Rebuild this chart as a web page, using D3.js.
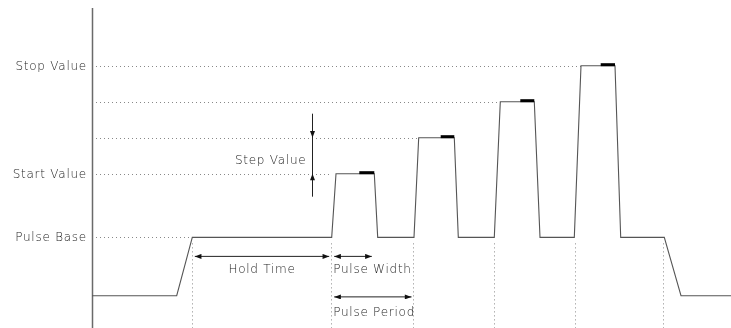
<!DOCTYPE html>
<html>
<head>
<meta charset="utf-8">
<script src="https://cdn.jsdelivr.net/npm/d3@7"></script>
<style>
  html, body { margin: 0; padding: 0; background: #fff; }
  svg { display: block; }
  text { font-family: "DejaVu Sans", sans-serif; font-size: 12px; font-weight: 200; fill: #1e1e1e; letter-spacing: 0.75px; }
  .labels { filter: grayscale(1); }
</style>
</head>
<body>
<svg id="chart" width="731" height="328"></svg>
<script>
// ---------- data (time units, level units) ----------
const levelNames  = ["Pulse Base", "Start Value", "Step 2", "Step 3", "Stop Value"];
const levelValues = [1.62, 3.39, 4.39, 5.39, 6.39];
const lowLevel = 0;
const labelledLevels = ["Stop Value", "Start Value", "Pulse Base"];

// waveform vertices
const waveTimes  = [0, 84.7, 100.3, 239.7, 244, 282.3, 285.7, 322, 326.7, 362.3, 366.3,
                    402.3, 408.3, 442.3, 448, 482.3, 489, 523, 528.7, 572.3, 589, 639];
const waveLevels = [0, 0, 1.62, 1.62, 3.39, 3.39, 1.62, 1.62, 4.39, 4.39, 1.62,
                    1.62, 5.39, 5.39, 1.62, 1.62, 6.39, 6.39, 1.62, 1.62, 0, 0];

// measurement marks at the end of each pulse top
const markStart = [267.3, 348.7, 428.3, 508.7];
const markEnd   = [282.3, 362.3, 442.3, 523];
const markLevel = [3.39, 4.39, 5.39, 6.39];

// where each level's guide line stops (time at which the level is reached)
const guideEnd = [100.3, 239.7, 326.7, 408.3, 489];

// vertical guide times
const vGuides = [100.3, 238.5, 320.7, 402.3, 483, 570.7];

// annotation intervals
const holdTime    = [100.3, 239.7];
const pulseWidth  = [239.7, 282.3];
const pulsePeriod = [239.7, 322];
const stepTime    = 219.7;
const stepLevels  = [3.39, 4.39];

// ---------- scales ----------
const svg = d3.select("#chart");
const x = d3.scaleLinear().domain([0, 639]).range([92, 731]);
const y = d3.scaleLinear().domain([0, 6.39]).range([295.7, 65.7]);

// arrow marker
const defs = svg.append("defs");
defs.append("marker")
  .attr("id", "arrow")
  .attr("viewBox", "0 0 8 6")
  .attr("refX", 8).attr("refY", 3)
  .attr("markerWidth", 8).attr("markerHeight", 5)
  .attr("markerUnits", "userSpaceOnUse")
  .attr("orient", "auto-start-reverse")
  .append("path").attr("d", "M0,0 L8,3 L0,6 Z").attr("fill", "#111");

// vertical axis
svg.append("line")
  .attr("x1", x(0) + 0.5).attr("x2", x(0) + 0.5)
  .attr("y1", 8).attr("y2", 328)
  .attr("stroke", "#6a6a6a").attr("stroke-width", 1.5);

// horizontal dotted guides
svg.append("g").selectAll("line").data(levelValues).join("line")
  .attr("x1", x(0) + 4).attr("x2", (d, i) => x(guideEnd[i]))
  .attr("y1", d => Math.round(y(d)) + 0.5).attr("y2", d => Math.round(y(d)) + 0.5)
  .attr("stroke", "#888").attr("stroke-width", 1)
  .attr("stroke-dasharray", "1,3");

// vertical dotted guides
svg.append("g").selectAll("line").data(vGuides).join("line")
  .attr("x1", d => Math.round(x(d)) + 0.5).attr("x2", d => Math.round(x(d)) + 0.5)
  .attr("y1", y(levelValues[0]) + 6).attr("y2", 328)
  .attr("stroke", "#888").attr("stroke-width", 1)
  .attr("stroke-dasharray", "1,3");

// waveform
const line = d3.line().x((d) => x(d[0])).y((d) => y(d[1]));
svg.append("path")
  .datum(waveTimes.map((t, i) => [t, waveLevels[i]]))
  .attr("d", line)
  .attr("fill", "none").attr("stroke", "#555").attr("stroke-width", 1.1);

// black measurement marks
svg.append("g").selectAll("line").data(markStart).join("line")
  .attr("x1", d => x(d)).attr("x2", (d, i) => x(markEnd[i]))
  .attr("y1", (d, i) => y(markLevel[i]) - 1).attr("y2", (d, i) => y(markLevel[i]) - 1)
  .attr("stroke", "#000").attr("stroke-width", 3);

const labels = svg.append("g").attr("class", "labels");

// level labels
labels.append("g").selectAll("text").data(labelledLevels).join("text")
  .attr("x", 87)
  .attr("y", d => y(levelValues[levelNames.indexOf(d)]))
  .attr("text-anchor", "end").attr("dominant-baseline", "central")
  .text(d => d);

// horizontal dimension arrows
function hArrow(interval, yy, label, anchor, lx, ly) {
  svg.append("line")
    .attr("x1", x(interval[0]) + 2.5).attr("x2", x(interval[1]) - 2.5)
    .attr("y1", yy).attr("y2", yy)
    .attr("stroke", "#222").attr("stroke-width", 1)
    .attr("marker-start", "url(#arrow)").attr("marker-end", "url(#arrow)");
  labels.append("text").attr("x", lx).attr("y", ly)
    .attr("text-anchor", anchor).text(label);
}
const baseY = y(levelValues[0]);
hArrow(holdTime, baseY + 19, "Hold Time", "middle", (x(holdTime[0]) + x(holdTime[1])) / 2, baseY + 36);
hArrow(pulseWidth, baseY + 19, "Pulse Width", "start", x(pulseWidth[0]) + 1.5, baseY + 36);
hArrow(pulsePeriod, baseY + 59.5, "Pulse Period", "start", x(pulsePeriod[0]) + 1.5, baseY + 79);

// step value vertical dimension
const sx = Math.round(x(stepTime)) + 0.5;
const yTop = y(stepLevels[1]), yBot = y(stepLevels[0]);
svg.append("line").attr("x1", sx).attr("x2", sx)
  .attr("y1", yTop - 24).attr("y2", yBot + 23)
  .attr("stroke", "#222").attr("stroke-width", 1);
svg.append("line").attr("x1", sx).attr("x2", sx)
  .attr("y1", yTop - 12).attr("y2", yTop)
  .attr("stroke", "none").attr("marker-end", "url(#arrow)");
svg.append("line").attr("x1", sx).attr("x2", sx)
  .attr("y1", yBot + 12).attr("y2", yBot)
  .attr("stroke", "none").attr("marker-end", "url(#arrow)");
labels.append("text").attr("x", sx - 6).attr("y", (yTop + yBot) / 2 + 4)
  .attr("text-anchor", "end").attr("dominant-baseline", "central").text("Step Value");
</script>
</body>
</html>
